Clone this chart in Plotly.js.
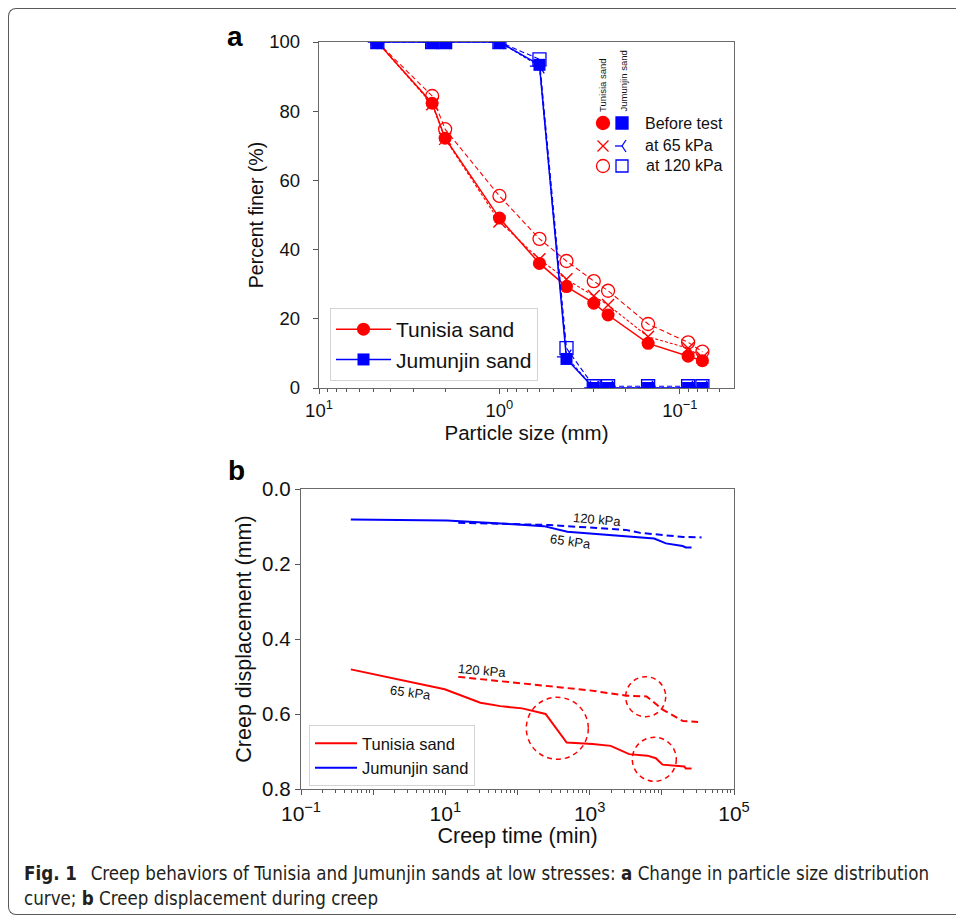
<!DOCTYPE html>
<html><head><meta charset="utf-8">
<script src="https://cdn.plot.ly/plotly-3.0.1.min.js"></script>
<style>
html,body{margin:0;padding:0;background:#fff;}
#chart{width:956px;height:921px;}
#frame{position:absolute;left:8px;top:8px;width:980px;height:905px;border:1.5px solid #5a5a5a;border-right:none;border-radius:8px;pointer-events:none;}
</style>
</head><body>
<div id="chart"></div><div id="frame"></div>
<script>
// ---------- Panel a: particle size distribution ----------
const sieveSizes     = [4.75, 2.36, 2.0, 1.0, 0.6, 0.425, 0.3, 0.25, 0.15, 0.09, 0.075];
const tunisiaBefore  = [100, 82.3, 72.2, 49.1, 36.0, 29.3, 24.5, 21.1, 12.9, 9.2, 7.9];
const tunisia65      = [100, 82.0, 72.0, 48.1, 37.2, 31.4, 26.6, 24.0, 14.8, 11.5, 8.8];
const tunisia120     = [100, 84.4, 74.8, 55.5, 43.1, 36.7, 30.9, 28.1, 18.5, 13.2, 10.5];
const jumunjinBefore = [100, 100, 100, 100, 93.4, 8.4, 0, 0, 0, 0, 0];
const jumunjin65     = [100, 100, 100, 100, 93.0, 9.0, 0, 0, 0, 0, 0];
const jumunjin120    = [100, 100, 100, 100, 95.0, 11.5, 0.5, 0.5, 0.5, 0.5, 0.5];
const topXTickVals   = [10, 1, 0.1];
const topXTickText   = ['10<sup>1</sup>', '10<sup>0</sup>', '10<sup>\u22121</sup>'];

// ---------- Panel b: creep displacement ----------
const tTunisia65   = [0.49, 9.8, 30.6, 58, 116, 245, 480, 1090, 1960, 3520, 6320, 8260, 10220, 20420, 21530, 25800];
const dTunisia65   = [0.481, 0.534, 0.570, 0.579, 0.585, 0.600, 0.676, 0.680, 0.685, 0.707, 0.711, 0.718, 0.735, 0.740, 0.745, 0.745];
const tTunisia120  = [15.1, 100, 1000, 3240, 6140, 10400, 19700, 31800];
const dTunisia120  = [0.501, 0.517, 0.537, 0.551, 0.553, 0.589, 0.619, 0.621];
const tJumunjin65  = [0.49, 10.5, 89, 232, 490, 1960, 7830, 11400, 19400, 21530, 25800];
const dJumunjin65  = [0.081, 0.084, 0.094, 0.099, 0.114, 0.124, 0.132, 0.145, 0.152, 0.156, 0.156];
const tJumunjin120 = [15.1, 100, 275, 3160, 5010, 20000, 35500];
const dJumunjin120 = [0.090, 0.094, 0.096, 0.109, 0.117, 0.128, 0.129];
const botXTickVals = [0.1, 1, 10, 100, 1000, 10000, 100000];
const botXTickText = ['10<sup>\u22121</sup>', '', '10<sup>1</sup>', '', '10<sup>3</sup>', '', '10<sup>5</sup>'];

const RED = '#ff0000', BLUE = '#0000ff';
const FONT = 'Arial';
const CAPFONT = 'DejaVu Sans Condensed';
const W = 956, H = 921;
const PX = x => x / W;
const PY = y => 1 - y / H;

function minorLog(lo, hi) {
  const v = [];
  for (let k = lo; k <= hi; k++) for (let m = 2; m <= 9; m++) v.push(m * Math.pow(10, k));
  return v;
}

const traces = [
  {x: sieveSizes, y: tunisiaBefore, xaxis: 'x', yaxis: 'y', mode: 'lines+markers', name: 'Tunisia sand', legend: 'legend',
   line: {color: RED, width: 1.5}, marker: {symbol: 'circle', size: 13, color: RED}},
  {x: sieveSizes, y: tunisia65, xaxis: 'x', yaxis: 'y', mode: 'lines+markers', showlegend: false,
   line: {color: RED, width: 1.1, dash: '3px,2px'}, marker: {symbol: 'x-thin-open', size: 12, color: RED, line: {color: RED, width: 1.4}}},
  {x: sieveSizes, y: tunisia120, xaxis: 'x', yaxis: 'y', mode: 'lines+markers', showlegend: false,
   line: {color: RED, width: 1.1, dash: '5px,3px'}, marker: {symbol: 'circle-open', size: 13, color: RED, line: {color: RED, width: 1.3}}},
  {x: sieveSizes, y: jumunjinBefore, xaxis: 'x', yaxis: 'y', mode: 'lines+markers', name: 'Jumunjin sand', legend: 'legend',
   line: {color: BLUE, width: 1.5}, marker: {symbol: 'square', size: 12, color: BLUE}},
  {x: sieveSizes, y: jumunjin65, xaxis: 'x', yaxis: 'y', mode: 'lines+markers', showlegend: false,
   line: {color: BLUE, width: 1.1, dash: '3px,2px'}, marker: {symbol: 'y-left', size: 12, color: BLUE, line: {color: BLUE, width: 1.3}}},
  {x: sieveSizes, y: jumunjin120, xaxis: 'x', yaxis: 'y', mode: 'lines+markers', showlegend: false,
   line: {color: BLUE, width: 1.1, dash: '5px,3px'}, marker: {symbol: 'square-open', size: 13, color: BLUE, line: {color: BLUE, width: 1.3}}},

  {x: tTunisia65, y: dTunisia65, xaxis: 'x2', yaxis: 'y2', mode: 'lines', name: 'Tunisia sand', legend: 'legend2',
   line: {color: RED, width: 2}},
  {x: tTunisia120, y: dTunisia120, xaxis: 'x2', yaxis: 'y2', mode: 'lines', showlegend: false,
   line: {color: RED, width: 2, dash: '7px,4px'}},
  {x: tJumunjin65, y: dJumunjin65, xaxis: 'x2', yaxis: 'y2', mode: 'lines', name: 'Jumunjin sand', legend: 'legend2',
   line: {color: BLUE, width: 2}},
  {x: tJumunjin120, y: dJumunjin120, xaxis: 'x2', yaxis: 'y2', mode: 'lines', showlegend: false,
   line: {color: BLUE, width: 2, dash: '7px,4px'}}
];

const axisCommon = {
  showline: true, linecolor: '#6a6a6a', linewidth: 1.3, mirror: true,
  ticks: 'outside', ticklen: 5, tickwidth: 1, tickcolor: '#555',
  showgrid: false, zeroline: false,
  tickfont: {family: FONT, size: 18.5, color: '#111'}
};

const shapes = [];
function circ(cx, cy, r, fill, col) {
  shapes.push({type: 'circle', xref: 'paper', yref: 'paper', x0: PX(cx - r), x1: PX(cx + r), y0: PY(cy + r), y1: PY(cy - r),
    line: {color: col, width: 1.3}, fillcolor: fill});
}
function rect(cx, cy, h, fill, col) {
  shapes.push({type: 'rect', xref: 'paper', yref: 'paper', x0: PX(cx - h), x1: PX(cx + h), y0: PY(cy + h), y1: PY(cy - h),
    line: {color: col, width: 1.3}, fillcolor: fill});
}
function seg(x0, y0, x1, y1, col) {
  shapes.push({type: 'line', xref: 'paper', yref: 'paper', x0: PX(x0), x1: PX(x1), y0: PY(y0), y1: PY(y1),
    line: {color: col, width: 1.3}});
}
// custom marker key (panel a)
circ(603, 123, 6.5, RED, RED);
rect(622, 123, 6, BLUE, BLUE);
seg(597.5, 140.5, 608.5, 151.5, RED); seg(597.5, 151.5, 608.5, 140.5, RED);
seg(622, 146, 615, 146, BLUE); seg(622, 146, 626, 140, BLUE); seg(622, 146, 626, 152, BLUE);
circ(603, 166, 6.5, 'rgba(0,0,0,0)', RED);
rect(622, 166, 6, 'rgba(0,0,0,0)', BLUE);
// dashed highlight circles (panel b)
function dcirc(cx, cy, r) {
  shapes.push({type: 'circle', xref: 'paper', yref: 'paper', x0: PX(cx - r), x1: PX(cx + r), y0: PY(cy + r), y1: PY(cy - r),
    line: {color: RED, width: 1.5, dash: '5px,4px'}});
}
dcirc(557.3, 728.3, 31);
dcirc(645.7, 696.7, 20);
dcirc(654.3, 759.3, 22);

function ann(text, x, y, opts) {
  return Object.assign({text: text, xref: 'paper', yref: 'paper', x: PX(x), y: PY(y), showarrow: false,
    xanchor: 'center', yanchor: 'middle', font: {family: FONT, size: 13, color: '#111'}}, opts || {});
}
const annotations = [
  ann('<b>a</b>', 235, 36, {font: {family: FONT, size: 28, color: '#000'}}),
  ann('<b>b</b>', 236, 470, {font: {family: FONT, size: 28, color: '#000'}}),
  ann('Tunisia sand', 602, 85, {textangle: -90, font: {family: FONT, size: 9.5, color: '#111'}}),
  ann('Jumunjin sand', 623, 81.5, {textangle: -90, font: {family: FONT, size: 9.5, color: '#111'}}),
  ann('Before test', 643, 123, {xanchor: 'left', font: {family: FONT, size: 16, color: '#111'}}),
  ann('at 65 kPa', 643, 146, {xanchor: 'left', font: {family: FONT, size: 16, color: '#111'}}),
  ann('at 120 kPa', 644, 166, {xanchor: 'left', font: {family: FONT, size: 16, color: '#111'}}),
  ann('120 kPa', 596.7, 519.3, {textangle: 5}),
  ann('65 kPa', 570.7, 541, {textangle: 8}),
  ann('120 kPa', 481.7, 670, {textangle: 5}),
  ann('65 kPa', 410, 692.7, {textangle: 8}),
  ann('<b>Fig. 1</b>\u2002 Creep behaviors of Tunisia and Jumunjin sands at low stresses: <b>a</b> Change in particle size distribution',
      22, 873, {xanchor: 'left', font: {family: CAPFONT, size: 18.6, color: '#231f20'}}),
  ann('curve; <b>b</b> Creep displacement during creep', 22, 898, {xanchor: 'left', font: {family: CAPFONT, size: 18.6, color: '#231f20'}})
];

const layout = {
  width: W, height: H,
  margin: {l: 0, r: 0, t: 0, b: 0},
  paper_bgcolor: '#fff', plot_bgcolor: '#fff',
  font: {family: FONT, color: '#111'},
  xaxis: Object.assign({}, axisCommon, {
    domain: [PX(319), PX(734)], anchor: 'y', type: 'log', range: [1, -1.3],
    tickmode: 'array', tickvals: topXTickVals, ticktext: topXTickText,
    minor: {ticks: 'outside', ticklen: 3, tickwidth: 1, tickcolor: '#555', tickvals: minorLog(-2, 0)},
    title: {text: 'Particle size (mm)', font: {family: FONT, size: 20.5, color: '#111'}, standoff: 6}
  }),
  yaxis: Object.assign({}, axisCommon, {
    domain: [PY(388), PY(42)], anchor: 'x', range: [0, 100], dtick: 20, ticklabelstandoff: 9,
    title: {text: 'Percent finer (%)', font: {family: FONT, size: 19.5, color: '#111'}, standoff: 0}
  }),
  xaxis2: Object.assign({}, axisCommon, {
    domain: [PX(301), PX(734)], anchor: 'y2', type: 'log', range: [-1, 5],
    tickmode: 'array', tickvals: botXTickVals, ticktext: botXTickText,
    tickfont: {family: FONT, size: 21, color: '#111'},
    minor: {ticks: 'outside', ticklen: 3, tickwidth: 1, tickcolor: '#555', tickvals: minorLog(-1, 4)},
    title: {text: 'Creep time (min)', font: {family: FONT, size: 21.5, color: '#111'}, standoff: 4}
  }),
  yaxis2: Object.assign({}, axisCommon, {
    domain: [PY(789), PY(489)], anchor: 'x2', range: [0.8, 0], dtick: 0.2, tickformat: '.1f', ticklabelstandoff: 0,
    tickfont: {family: FONT, size: 20.5, color: '#111'},
    title: {text: 'Creep displacement (mm)', font: {family: FONT, size: 21.5, color: '#111'}, standoff: 4}
  }),
  legend: {x: PX(330), y: PY(308), xanchor: 'left', yanchor: 'top', font: {family: FONT, size: 21, color: '#111'},
    bordercolor: '#d4d4d4', borderwidth: 1, bgcolor: 'rgba(255,255,255,0.85)', itemwidth: 55, tracegroupgap: 0},
  legend2: {x: PX(309), y: PY(725), xanchor: 'left', yanchor: 'top', font: {family: FONT, size: 16.5, color: '#111'},
    bordercolor: '#d4d4d4', borderwidth: 1, bgcolor: 'rgba(255,255,255,0.85)', itemwidth: 42, tracegroupgap: 0},
  shapes: shapes,
  annotations: annotations
};

Plotly.newPlot('chart', traces, layout, {staticPlot: true, displayModeBar: false});
</script>
</body></html>
